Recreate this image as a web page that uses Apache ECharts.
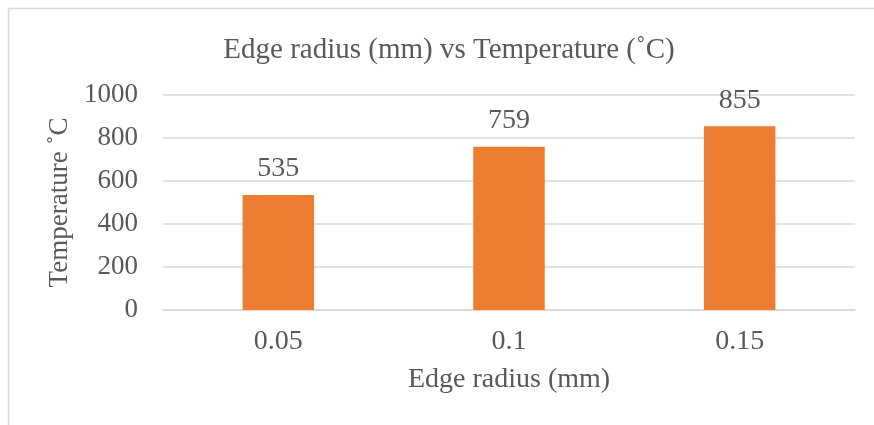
<!DOCTYPE html>
<html>
<head>
<meta charset="utf-8">
<script src="https://cdn.jsdelivr.net/npm/echarts@6/dist/echarts.min.js"></script>
<style>
html,body{margin:0;padding:0;background:#fff;}
#chart{width:874px;height:425px;}
</style>
</head>
<body>
<div id="chart"></div>
<script>
const categories = ['0.05', '0.1', '0.15'];
const temperatures = [535, 759, 855];
const yTicks = [0, 200, 400, 600, 800, 1000];

const FONT = '"Liberation Serif", "Times New Roman", serif';
const TXT = '#595959';
const chart = echarts.init(document.getElementById('chart'), null, {renderer: 'canvas'});
chart.setOption({
  backgroundColor: '#fff',
  animation: false,
  graphic: [{
    type: 'rect',
    shape: {x: 8.5, y: 8.5, width: 1000, height: 1000},
    style: {fill: 'none', stroke: '#d9d9d9', lineWidth: 1.5},
    silent: true
  }],
  title: {
    text: 'Edge radius (mm) vs Temperature (˚C)',
    left: 444, top: 31, textAlign: 'center',
    textStyle: {fontFamily: FONT, fontSize: 29, fontWeight: 'normal', color: TXT}
  },
  grid: {left: 163, right: 19, top: 95, bottom: 115},
  xAxis: {
    type: 'category',
    data: categories,
    name: 'Edge radius (mm)',
    nameLocation: 'middle',
    nameGap: 56,
    nameTextStyle: {fontFamily: FONT, fontSize: 28, color: TXT},
    axisLine: {lineStyle: {color: '#d9d9d9', width: 1.5}},
    axisTick: {show: false},
    axisLabel: {fontFamily: FONT, fontSize: 28, color: TXT, margin: 18}
  },
  yAxis: {
    type: 'value',
    min: yTicks[0], max: yTicks[yTicks.length - 1], interval: 200,
    name: 'Temperature ˚C',
    nameLocation: 'middle',
    nameGap: 82,
    nameTextStyle: {fontFamily: FONT, fontSize: 27, color: TXT},
    axisLine: {show: false},
    axisTick: {show: false},
    splitLine: {lineStyle: {color: '#d9d9d9', width: 1.5}},
    axisLabel: {fontFamily: FONT, fontSize: 27, color: TXT, margin: 25,
      formatter: function (v) { return String(v); }}
  },
  series: [{
    type: 'bar',
    data: temperatures,
    barWidth: '31%',
    itemStyle: {color: '#ed7d31'},
    label: {
      show: true, position: 'top', distance: 12,
      fontFamily: FONT, fontSize: 28, color: TXT
    }
  }]
});
</script>
</body>
</html>
